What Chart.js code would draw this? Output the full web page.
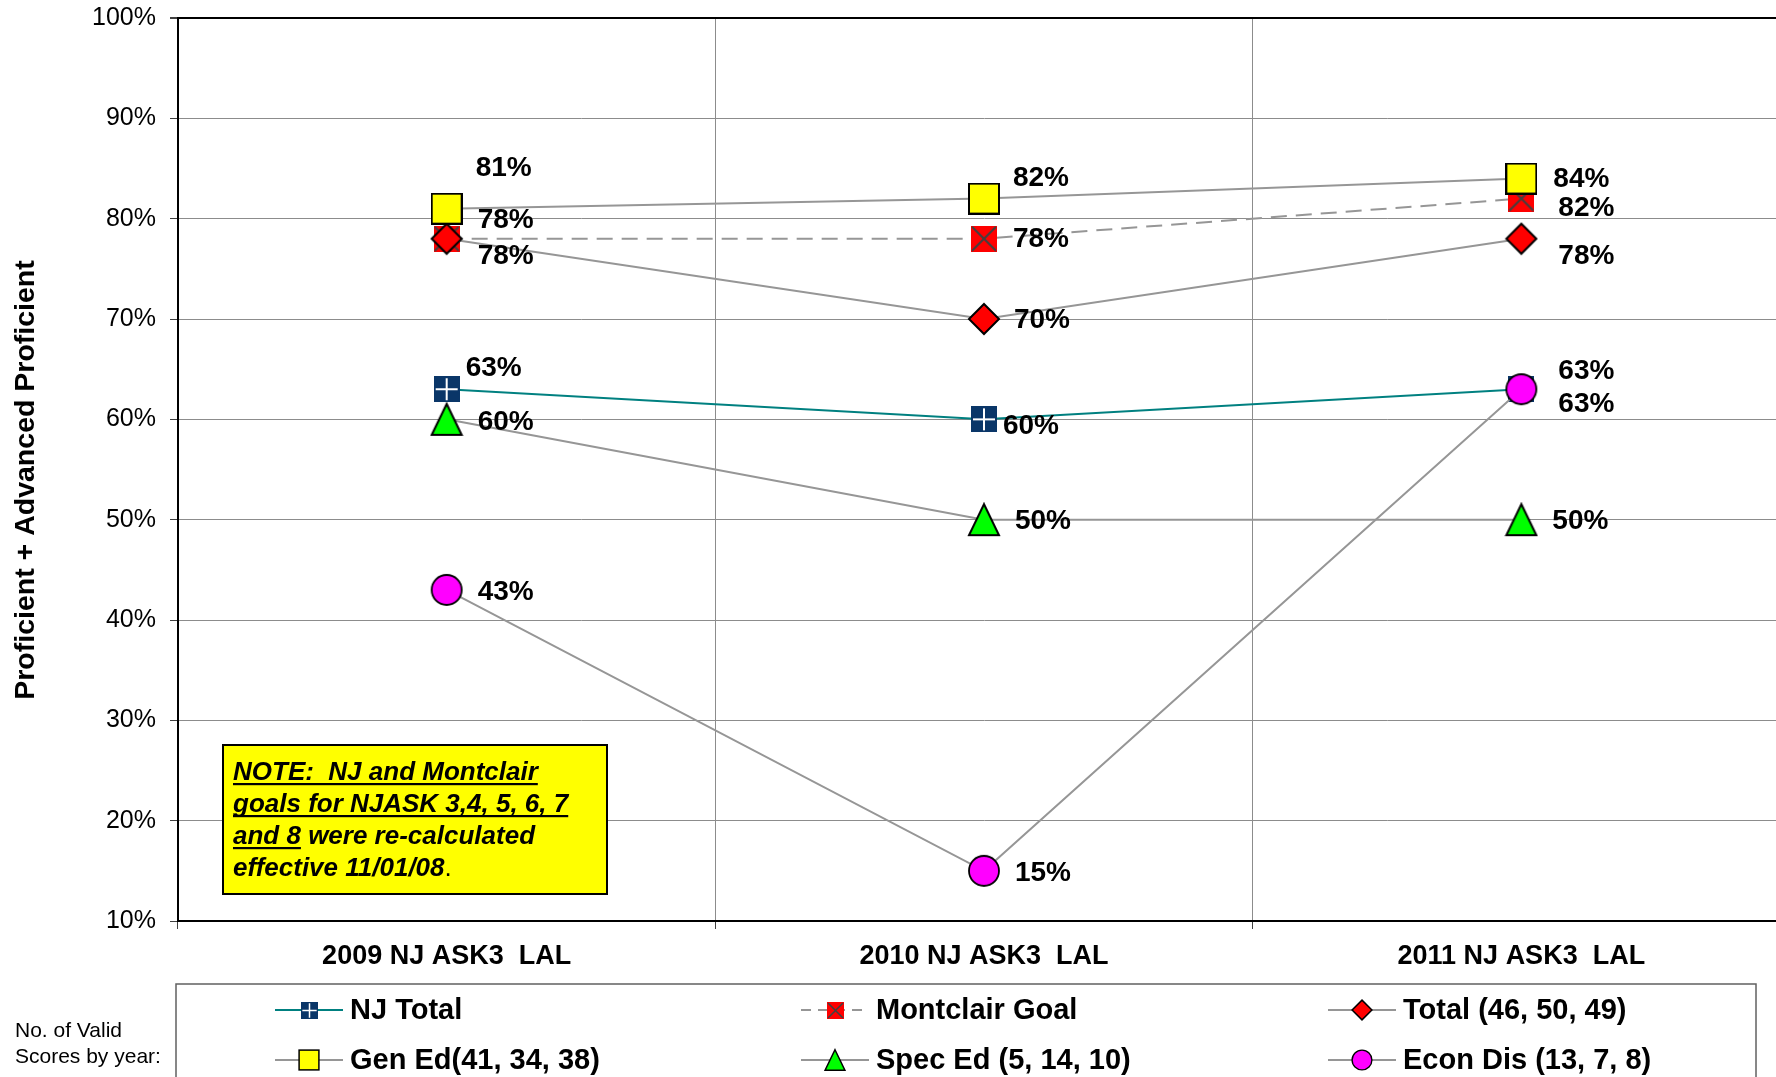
<!DOCTYPE html>
<html><head><meta charset="utf-8">
<script src="https://cdn.jsdelivr.net/npm/chart.js@4.4.1/dist/chart.umd.min.js"></script>
<style>
html,body{margin:0;padding:0;background:#fff;overflow:hidden;width:1776px;height:1077px}
#wrap{position:absolute;left:0;top:0;width:1800px;height:1077px}
</style>
</head><body><div id="wrap"><canvas id="c" width="1800" height="1077"></canvas></div>
<script>
// ---- data ----
const categories = ['2009 NJ ASK3  LAL', '2010 NJ ASK3  LAL', '2011 NJ ASK3  LAL'];
const seriesNames = ['NJ Total', 'Montclair Goal', 'Total (46, 50, 49)', 'Gen Ed(41, 34, 38)', 'Spec Ed (5, 14, 10)', 'Econ Dis (13, 7, 8)'];
const njTotal = [63, 60, 63];
const montclairGoal = [78, 78, 82];
const total = [78, 70, 78];
const genEd = [81, 82, 84];
const specEd = [60, 50, 50];
const econDis = [43, 15, 63];
const yMin = 10, yMax = 100, yStep = 10;
const yTitle = 'Proficient + Advanced Proficient';
const validNote = ['No. of Valid', 'Scores by year:'];
const noteLines = [
  [{t: 'NOTE:  NJ and Montclair', u: true}],
  [{t: 'goals for NJASK 3,4, 5, 6, 7', u: true}],
  [{t: 'and 8', u: true}, {t: ' were re-calculated', u: false}],
  [{t: 'effective 11/01/08', u: false}, {t: '.', u: false, plain: true}]
];

// ---- styles / positions ----
const labelOffsets = [
  [[47, -22], [47, 6], [65, -19]],
  [[59, -19], [57, 0], [65, 9]],
  [[59, 17], [58, 0], [65, 17]],
  [[57, -41], [57, -21], [60, 0]],
  [[59, 2], [59, 1], [59, 1]],
  [[59, 1], [59, 1], [65, 14]]
];
const FONT = '"Liberation Sans", Arial, sans-serif';

function makeCanvas(w, h) {
  const c = document.createElement('canvas');
  c.width = w; c.height = h;
  return c;
}
function markNJ(s) {
  const W = Math.round(26 * s); const c = makeCanvas(W, W); const g = c.getContext('2d');
  g.fillStyle = '#0a3668'; g.fillRect(0, 0, W, W);
  g.strokeStyle = '#ffffff'; g.lineWidth = Math.max(1.5, 2 * s);
  g.beginPath(); g.moveTo(W / 2, 2 * s); g.lineTo(W / 2, W - 2 * s);
  g.moveTo(2 * s, W / 2); g.lineTo(W - 2 * s, W / 2); g.stroke();
  return c;
}
function markMont(s) {
  const W = Math.round(26 * s); const c = makeCanvas(W, W); const g = c.getContext('2d');
  g.fillStyle = '#ff0000'; g.fillRect(0, 0, W, W);
  g.strokeStyle = '#404040'; g.lineWidth = Math.max(1.5, 2 * s);
  g.beginPath(); g.moveTo(1, 1); g.lineTo(W - 1, W - 1); g.moveTo(W - 1, 1); g.lineTo(1, W - 1); g.stroke();
  return c;
}
function markDiamond(s) {
  const r = 15 * s; const W = Math.round(2 * r + 4); const c = makeCanvas(W, W); const g = c.getContext('2d');
  const m = W / 2;
  g.beginPath(); g.moveTo(m, m - r); g.lineTo(m + r, m); g.lineTo(m, m + r); g.lineTo(m - r, m); g.closePath();
  g.fillStyle = '#ff0000'; g.fill(); g.strokeStyle = '#000'; g.lineWidth = 2 * Math.max(s, 0.75); g.stroke();
  return c;
}
function markSquareY(s) {
  const a = 30 * s; const W = Math.round(a + 2); const c = makeCanvas(W, W); const g = c.getContext('2d');
  const o = (W - a) / 2;
  g.fillStyle = '#ffff00'; g.fillRect(o, o, a, a);
  g.strokeStyle = '#000'; g.lineWidth = 2 * Math.max(s, 0.75); g.strokeRect(o, o, a, a);
  return c;
}
function markTri(s) {
  const w = 30 * s, h = 31 * s; const W = Math.round(w + 4), H = Math.round(h + 4);
  const c = makeCanvas(W, H); const g = c.getContext('2d');
  const cx = W / 2, cy = H / 2;
  g.beginPath(); g.moveTo(cx, cy - h / 2); g.lineTo(cx + w / 2, cy + h / 2); g.lineTo(cx - w / 2, cy + h / 2); g.closePath();
  g.fillStyle = '#00ff00'; g.fill(); g.strokeStyle = '#000'; g.lineWidth = 2 * Math.max(s, 0.75); g.lineJoin = 'miter'; g.stroke();
  return c;
}
function markCircle(s) {
  const r = 15 * s; const W = Math.round(2 * r + 4); const c = makeCanvas(W, W); const g = c.getContext('2d');
  g.beginPath(); g.arc(W / 2, W / 2, r, 0, Math.PI * 2);
  g.fillStyle = '#ff00ff'; g.fill(); g.strokeStyle = '#000'; g.lineWidth = 1.8 * Math.max(s, 0.75); g.stroke();
  return c;
}
const makers = [markNJ, markMont, markDiamond, markSquareY, markTri, markCircle];
const lineColors = ['#008080', '#969696', '#969696', '#969696', '#969696', '#969696'];
const lineDash = [[], [16, 9], [], [], [], []];
const legendDash = [[], [10, 7], [], [], [], []];
const allData = [njTotal, montclairGoal, total, genEd, specEd, econDis];

const datasets = allData.map((d, i) => ({
  label: seriesNames[i],
  data: d,
  borderColor: lineColors[i],
  borderWidth: 2,
  borderDash: lineDash[i],
  pointStyle: makers[i](1),
  pointRadius: 15,
  pointHoverRadius: 15,
  tension: 0,
  fill: false,
  clip: false,
  order: allData.length - 1 - i
}));

const legendMarks = makers.map(f => f(0.66));
const legendCfg = {box: [176, 984, 1580, 200], cols: [275, 801, 1328], rows: [1010, 1060], sample: 68, textGap: 7};

const overlay = {
  id: 'overlay',
  afterDatasetsDraw(chart) {
    const ctx = chart.ctx;
    // note box
    ctx.save();
    ctx.fillStyle = '#ffff00';
    ctx.fillRect(223, 745, 384, 149);
    ctx.strokeStyle = '#000'; ctx.lineWidth = 2;
    ctx.strokeRect(223, 745, 384, 149);
    const nf = 'italic bold 26px ' + FONT;
    ctx.font = nf;
    ctx.fillStyle = '#000'; ctx.textBaseline = 'alphabetic'; ctx.textAlign = 'left';
    const baselines = [780, 812, 844, 876];
    noteLines.forEach((parts, li) => {
      let x = 233;
      parts.forEach(p => {
        if (p.plain) ctx.font = '26px ' + FONT;
        ctx.fillText(p.t, x, baselines[li]);
        const w = ctx.measureText(p.t).width;
        if (p.u) { ctx.fillRect(x, baselines[li] + 3, w, 2.2); }
        x += w;
        ctx.font = nf;
      });
    });
    ctx.restore();
    // data labels
    ctx.save();
    ctx.font = 'bold 28px ' + FONT;
    ctx.fillStyle = '#000'; ctx.textAlign = 'center'; ctx.textBaseline = 'middle';
    chart.data.datasets.forEach((ds, i) => {
      const meta = chart.getDatasetMeta(i);
      meta.data.forEach((pt, j) => {
        const off = labelOffsets[i][j];
        ctx.fillText(ds.data[j] + '%', pt.x + off[0], pt.y + off[1] + 1);
      });
    });
    ctx.restore();
  },
  afterDraw(chart) {
    const ctx = chart.ctx;
    ctx.save();
    // y title
    ctx.translate(26, 480); ctx.rotate(-Math.PI / 2);
    ctx.font = 'bold 28.5px ' + FONT;
    ctx.fillStyle = '#000'; ctx.textAlign = 'center'; ctx.textBaseline = 'middle';
    ctx.fillText(yTitle, 0, 0);
    ctx.restore();
    // legend
    ctx.save();
    const b = legendCfg.box;
    ctx.strokeStyle = '#606060'; ctx.lineWidth = 1.5;
    ctx.strokeRect(b[0], b[1], b[2], b[3]);
    ctx.font = 'bold 29px ' + FONT;
    ctx.textBaseline = 'middle'; ctx.textAlign = 'left';
    chart.data.datasets.forEach((ds, i) => {
      const x = legendCfg.cols[i % 3], y = legendCfg.rows[Math.floor(i / 3)];
      ctx.strokeStyle = ds.borderColor; ctx.lineWidth = 2; ctx.setLineDash(legendDash[i]);
      ctx.beginPath(); ctx.moveTo(x, y); ctx.lineTo(x + legendCfg.sample, y); ctx.stroke();
      ctx.setLineDash([]);
      const m = legendMarks[i];
      ctx.drawImage(m, Math.round(x + legendCfg.sample / 2 - m.width / 2), Math.round(y - m.height / 2));
      ctx.fillStyle = '#000';
      ctx.fillText(ds.label, x + legendCfg.sample + legendCfg.textGap, y + 1);
    });
    // valid note
    ctx.font = '21px ' + FONT;
    ctx.fillText(validNote[0], 15, 1031);
    ctx.fillText(validNote[1], 15, 1057);
    ctx.restore();
  }
};

new Chart(document.getElementById('c'), {
  type: 'line',
  data: {labels: categories, datasets},
  options: {
    responsive: false,
    devicePixelRatio: 1,
    animation: false,
    events: [],
    layout: {autoPadding: false, padding: {left: 0, right: 10, top: 18, bottom: 0}},
    plugins: {legend: {display: false}, tooltip: {enabled: false}, title: {display: false}},
    scales: {
      x: {
        type: 'category',
        offset: true,
        grid: {offset: true, color: '#8c8c8c', lineWidth: 1, tickLength: 8, tickColor: '#404040'},
        border: {color: '#000', width: 2},
        ticks: {color: '#000', font: {family: FONT, size: 27, weight: 'bold'}, padding: 11, maxRotation: 0, autoSkip: false},
        afterFit(s) { s.height = 156; s.paddingLeft = 0; s.paddingRight = 0; }
      },
      y: {
        min: yMin, max: yMax,
        ticks: {stepSize: yStep, color: '#000', padding: 14, font: {family: FONT, size: 25}, callback: v => v + '%'},
        grid: {color: c => (c.tick && c.tick.value === yMax) ? '#000' : '#8c8c8c', lineWidth: c => (c.tick && c.tick.value === yMax) ? 2 : 1, tickLength: 8, tickColor: '#404040'},
        border: {color: '#000', width: 2},
        afterFit(s) { s.width = 178; s.paddingTop = 0; s.paddingBottom = 0; }
      }
    }
  },
  plugins: [overlay]
});
</script>
</body></html>
